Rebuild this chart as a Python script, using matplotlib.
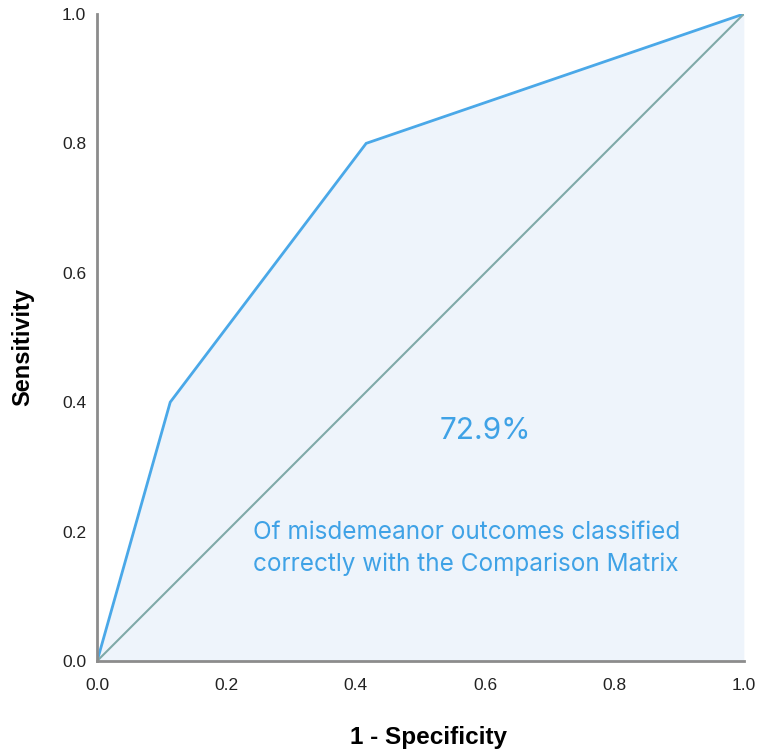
import numpy as np
import matplotlib.pyplot as plt

# ROC curve points
fpr = [0.0, 0.113, 0.416, 1.0]
tpr = [0.0, 0.40, 0.80, 1.0]
ref_line = [0.0, 1.0]
ticks = [0.0, 0.2, 0.4, 0.6, 0.8, 1.0]
tick_labels = ["0.0", "0.2", "0.4", "0.6", "0.8", "1.0"]
auc_text = "72.9%"
note_text = "Of misdemeanor outcomes classified\ncorrectly with the Comparison Matrix"

fig = plt.figure(figsize=(7.59, 7.5), dpi=100)
ax = fig.add_axes([0.128, 0.1187, 0.852, 0.8627])

ax.fill_between(fpr, tpr, 0, color="#eef4fb", lw=0)
ax.plot(fpr, tpr, color="#4aa8e8", lw=2, solid_joinstyle="miter")
ax.plot(ref_line, ref_line, color="#7fa9a8", lw=1.5)

ax.set_xlim(0, 1)
ax.set_ylim(0, 1)
ax.set_xticks(ticks)
ax.set_xticklabels(tick_labels)
ax.set_yticks(ticks)
ax.set_yticklabels(tick_labels)
ax.tick_params(length=0, labelsize=12.5, colors="#222222")
ax.tick_params(axis="x", pad=12)
ax.tick_params(axis="y", pad=8)
for lab in ax.get_xticklabels() + ax.get_yticklabels():
    lab.set_family("Liberation Sans")

for s in ["top", "right"]:
    ax.spines[s].set_visible(False)
for s in ["left", "bottom"]:
    ax.spines[s].set_color("#8c8c8c")
    ax.spines[s].set_linewidth(2)

ax.set_xlabel("1 - Specificity", fontsize=17.5, fontweight="bold",
              family="Liberation Sans")
ax.set_ylabel("Sensitivity", fontsize=17, fontweight="bold",
              family="Liberation Sans")
ax.xaxis.set_label_coords(0.513, -0.1)
ax.yaxis.set_label_coords(-0.097, 0.485)

ax.text(0.601, 0.355, auc_text, color="#3fa2e6", fontsize=21.5,
        ha="center", va="center", family="Inter")
ax.text(0.241, 0.174, note_text, color="#3fa2e6", fontsize=17.5,
        ha="left", va="center", family="Inter", linespacing=1.5)

fig.savefig("out.png", dpi=100)
